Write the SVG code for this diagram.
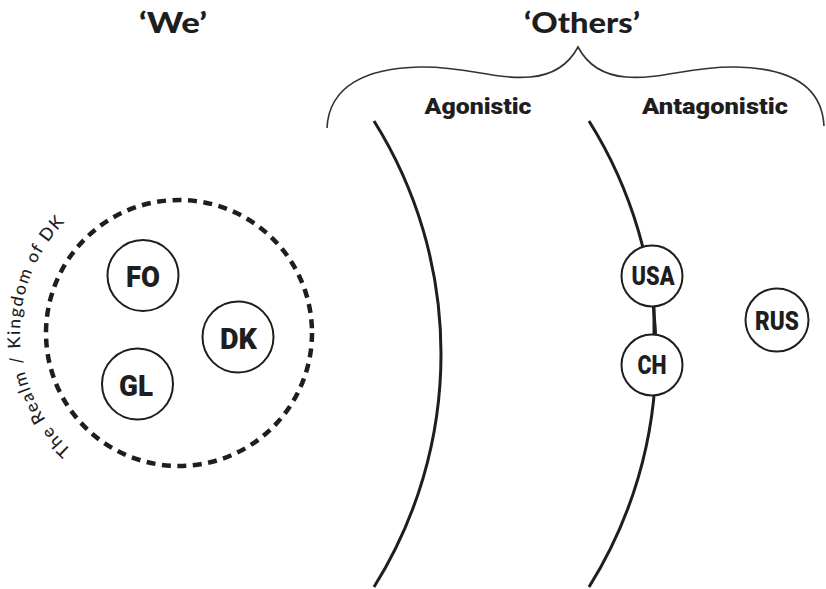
<svg xmlns="http://www.w3.org/2000/svg" width="826" height="589" viewBox="0 0 826 589">
  <defs>
    <style>
      .title { font-family: Lato, "Noto Sans", "Liberation Sans", sans-serif; font-weight: 900; font-size: 29px; fill: #1e1e1e; text-anchor: middle; }
      .head { font-family: Roboto, Inter, "Liberation Sans", sans-serif; font-weight: 900; font-size: 21.5px; fill: #1e1e1e; text-anchor: middle; }
      .lbl { font-family: Roboto, Inter, "Liberation Sans", sans-serif; font-weight: 900; fill: #1e1e1e; text-anchor: middle; }
      .node { fill: #fff; stroke: #1e1e1e; stroke-width: 2; }
      .arc { fill: none; stroke: #1e1e1e; stroke-width: 3; }
      .realm { font-family: Lato, "Noto Sans", "Liberation Sans", sans-serif; font-size: 17.5px; font-weight: 500; fill: #1e1e1e; }
    </style>
    <path id="realmPath" d="M 71.6,450.2 A 159,159 0 0 1 66.6,220.5"/>
  </defs>
  <rect width="826" height="589" fill="#fff"/>

  <!-- headings -->
  <text class="title" x="173" y="33" textLength="68" lengthAdjust="spacingAndGlyphs">‘We’</text>
  <text class="title" x="582" y="33" textLength="116" lengthAdjust="spacingAndGlyphs">‘Others’</text>

  <!-- brace over the two kinds of others -->
  <path d="M 327,128 C 329,86 366,68 420,67 C 466,66 495,80 530,77 C 556,75 570,62 578,47 C 586,62 600,75 626,77 C 661,80 690,66 736,67 C 790,68 822,86 824,126" fill="none" stroke="#333" stroke-width="1.6"/>

  <text class="head" x="478" y="114" textLength="107" lengthAdjust="spacingAndGlyphs">Agonistic</text>
  <text class="head" x="715" y="114" textLength="146" lengthAdjust="spacingAndGlyphs">Antagonistic</text>

  <!-- connectors: boundary arcs and links -->
  <g id="connectors">
    <path class="arc" d="M 374,121 A 438.6,438.6 0 0 1 374,587"/>
    <path class="arc" d="M 589,121 A 438.6,438.6 0 0 1 589,587"/>
    <line x1="654" y1="300" x2="654" y2="340" stroke="#1e1e1e" stroke-width="3"/>
  </g>

  <!-- the realm -->
  <g id="realm">
    <circle cx="179" cy="333" r="133" fill="none" stroke="#1e1e1e" stroke-width="4.5" stroke-dasharray="9 6.5"/>
    <text class="realm"><textPath href="#realmPath" textLength="254">The Realm / Kingdom of DK</textPath></text>
  </g>

  <g id="FO">
    <circle class="node" cx="143" cy="275.5" r="35.5"/>
    <text class="lbl" x="143" y="286.5" font-size="30" textLength="34" lengthAdjust="spacingAndGlyphs">FO</text>
  </g>
  <g id="DK">
    <circle class="node" cx="238" cy="337" r="35.5"/>
    <text class="lbl" x="238.5" y="348.5" font-size="30" textLength="37" lengthAdjust="spacingAndGlyphs">DK</text>
  </g>
  <g id="GL">
    <circle class="node" cx="137.5" cy="384" r="35.5"/>
    <text class="lbl" x="136" y="395.5" font-size="30" textLength="34" lengthAdjust="spacingAndGlyphs">GL</text>
  </g>

  <g id="USA">
    <circle class="node" cx="652" cy="276" r="30.5"/>
    <text class="lbl" x="653" y="285" font-size="25" textLength="43" lengthAdjust="spacingAndGlyphs">USA</text>
  </g>
  <g id="CH">
    <circle class="node" cx="652" cy="365" r="30.5"/>
    <text class="lbl" x="652" y="374" font-size="25" textLength="29" lengthAdjust="spacingAndGlyphs">CH</text>
  </g>
  <g id="RUS">
    <circle class="node" cx="777" cy="320" r="31.5"/>
    <text class="lbl" x="777" y="330" font-size="25" textLength="44" lengthAdjust="spacingAndGlyphs">RUS</text>
  </g>
</svg>
